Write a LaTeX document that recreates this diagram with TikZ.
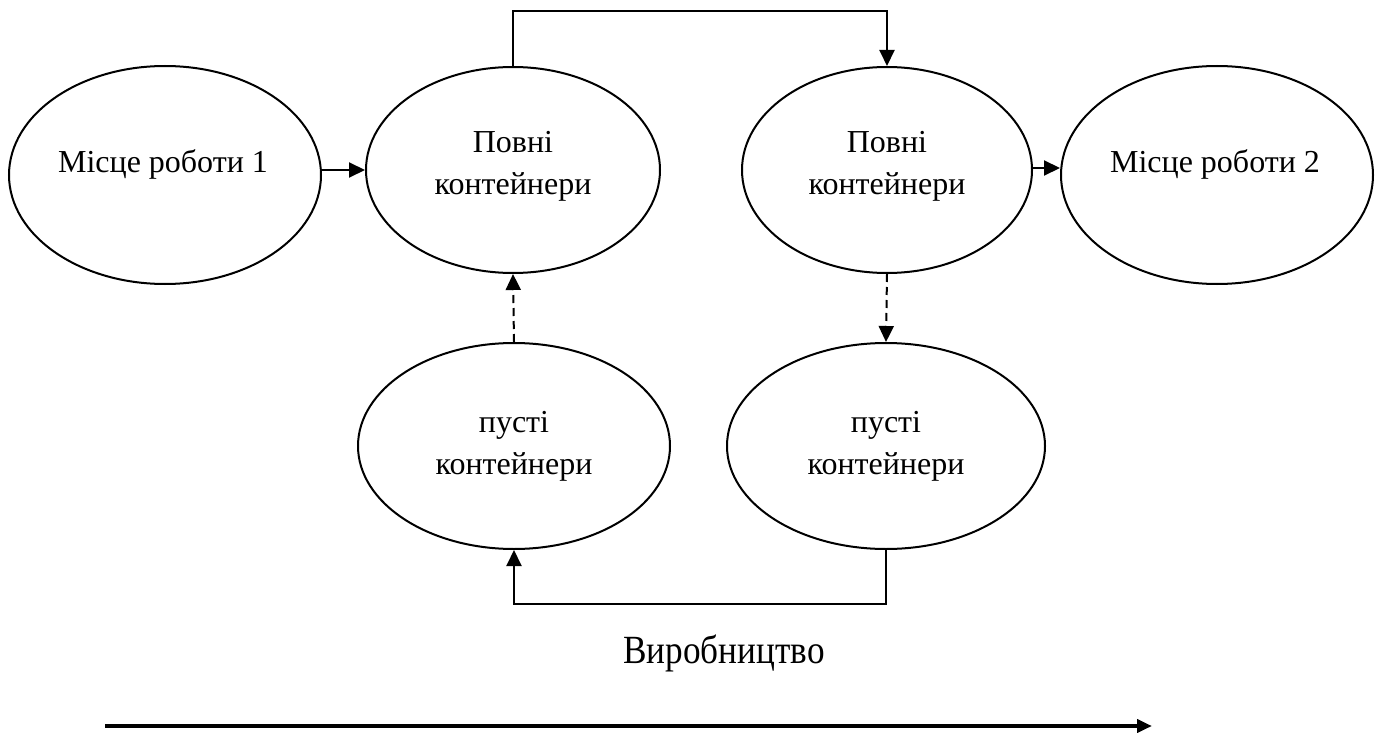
\documentclass[tikz,border=0pt]{standalone}
\usepackage{fontspec}
\setmainfont{Liberation Serif}
\usetikzlibrary{shapes.geometric,arrows.meta}
\begin{document}
\begin{tikzpicture}[x=1pt,y=-1pt,
  oval/.style={draw,line width=2pt,ellipse,inner sep=0pt},
  lbl/.style={align=center,font=\fontsize{32}{42}\selectfont,inner sep=0pt},
  flow/.style={line width=2pt,-{Triangle[length=16pt,width=15pt]}},
  back/.style={line width=2pt,dash pattern=on 8pt off 5pt,-{Triangle[length=16pt,width=15pt]}}]
\useasboundingbox (0,0) rectangle (1382,733);
% ellipses
\node[oval,minimum width=312pt,minimum height=218pt] (w1) at (165,175) {};
\node[oval,minimum width=294pt,minimum height=206pt] (f1) at (513,170) {};
\node[oval,minimum width=290pt,minimum height=206pt] (f2) at (887,170) {};
\node[oval,minimum width=312pt,minimum height=218pt] (w2) at (1217,175) {};
\node[oval,minimum width=312pt,minimum height=206pt] (e1) at (514,446) {};
\node[oval,minimum width=318pt,minimum height=206pt] (e2) at (886,446) {};
% labels
\node[lbl,anchor=base] (tw1) at (163,173) {Місце роботи 1};
\node[lbl] (tf1) at (513,166.5) {Повні\\контейнери};
\node[lbl] (tf2) at (887,166.5) {Повні\\контейнери};
\node[lbl,anchor=base] (tw2) at (1215,173) {Місце роботи 2};
\node[lbl] (te1) at (514,446.5) {пусті\\контейнери};
\node[lbl] (te2) at (886,446.5) {пусті\\контейнери};
\node[lbl,anchor=base,font=\fontsize{40}{44}\selectfont,xscale=0.88] (prod) at (724,663) {Виробництво};
% connectors
\coordinate (a1) at (w1.east |- 0,170);
\coordinate (a2) at (f1.west |- 0,170);
\draw[flow] (a1) -- (a2);
\coordinate (b1) at (f2.east |- 0,168);
\coordinate (b2) at (w2.west |- 0,168);
\draw[flow] (b1) -- (b2);
\draw[flow] (f1.north) -- (f1.north |- 0,11) -| (f2.north);
\draw[flow] (e2.south) -- (e2.south |- 0,604) -| (e1.south);
\draw[back] (e1.north) -- (f1.south);
\draw[back] (f2.south) -- (e2.north);
% production direction
\coordinate (p0) at (105,726);
\coordinate (p1) at (1152,726);
\draw[line width=4pt,-{Triangle[length=15pt,width=13pt]}] (p0) -- (p1);
\end{tikzpicture}
\end{document}
